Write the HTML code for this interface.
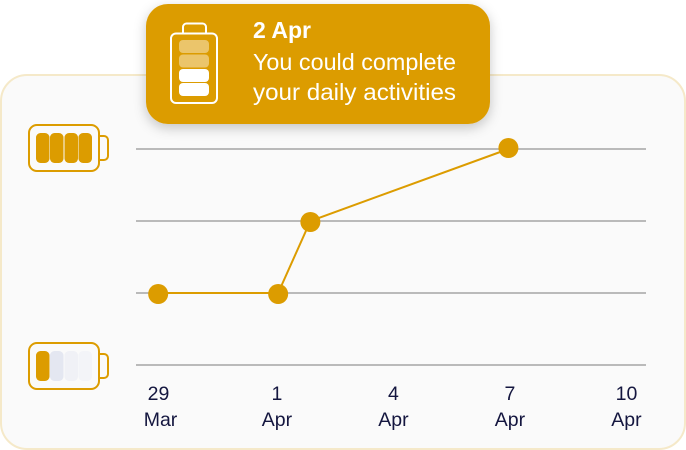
<!DOCTYPE html>
<html>
<head>
<meta charset="utf-8">
<style>
html,body{margin:0;padding:0;background:#fff;width:686px;height:450px;overflow:hidden}
svg{display:block;font-family:"Liberation Sans",sans-serif}
</style>
</head>
<body>
<svg id="chart" width="686" height="450" viewBox="0 0 686 450" xmlns="http://www.w3.org/2000/svg">
  <defs>
    <filter id="tip-shadow" x="-10%" y="-20%" width="120%" height="150%">
      <feDropShadow dx="0" dy="4" stdDeviation="6" flood-color="#000" flood-opacity="0.22"/>
    </filter>
  </defs>
  <rect x="1" y="75" width="684" height="374" rx="26" fill="#fafafa" stroke="#f5e9c9" stroke-width="2"/>
  <g id="grid"></g>
  <g id="series"></g>
  <g id="xaxis"></g>

  <g>
    <rect x="29" y="125" width="70" height="46" rx="8" fill="none" stroke="#dc9c00" stroke-width="2"/>
    <path d="M99 136h5a4 4 0 0 1 4 4v16a4 4 0 0 1-4 4h-5" fill="none" stroke="#dc9c00" stroke-width="2"/>
    <rect x="36" y="133" width="13.5" height="30" rx="4.500" fill="#dc9c00"/>
    <rect x="50" y="133" width="13.5" height="30" rx="4.500" fill="#dc9c00"/>
    <rect x="64.5" y="133" width="13.5" height="30" rx="4.500" fill="#dc9c00"/>
    <rect x="78.5" y="133" width="13.5" height="30" rx="4.500" fill="#dc9c00"/>
  </g>
  <g>
    <rect x="29" y="343" width="70" height="46" rx="8" fill="none" stroke="#dc9c00" stroke-width="2"/>
    <path d="M99 354h5a4 4 0 0 1 4 4v16a4 4 0 0 1-4 4h-5" fill="none" stroke="#dc9c00" stroke-width="2"/>
    <rect x="36" y="351" width="13.5" height="30" rx="4.500" fill="#dc9c00"/>
    <rect x="50" y="351" width="13.5" height="30" rx="4.500" fill="#e4e7f1"/>
    <rect x="64.5" y="351" width="13.5" height="30" rx="4.500" fill="#f0f1f6"/>
    <rect x="78.5" y="351" width="13.5" height="30" rx="4.500" fill="#f3f4f8"/>
  </g>

  <g>
    <rect x="146" y="4" width="344" height="120" rx="22" fill="#dc9c00" filter="url(#tip-shadow)"/>
    <g>
      <rect x="171" y="33.5" width="46" height="69.5" rx="5" fill="none" stroke="#fff" stroke-width="2"/>
      <path d="M183 33v-6a3.500 3.500 0 0 1 3.500-3.500h16a3.500 3.500 0 0 1 3.500 3.500v6" fill="none" stroke="#fff" stroke-width="2"/>
      <rect x="179" y="40" width="30" height="13" rx="4" fill="#fff" fill-opacity="0.42"/>
      <rect x="179" y="54.500" width="30" height="13" rx="4" fill="#fff" fill-opacity="0.42"/>
      <rect x="179" y="69" width="30" height="13" rx="4" fill="#fff"/>
      <rect x="179" y="83" width="30" height="13" rx="4" fill="#fff"/>
    </g>
    <text x="253" y="38" font-size="23" font-weight="700" fill="#fff" textLength="58" lengthAdjust="spacingAndGlyphs">2 Apr</text>
    <text x="253" y="70" font-size="23" fill="#fff" textLength="203" lengthAdjust="spacingAndGlyphs">You could complete</text>
    <text x="253" y="100" font-size="23" fill="#fff" textLength="203" lengthAdjust="spacingAndGlyphs">your daily activities</text>
  </g>
</svg>
<script>
var tickDays = [0, 3, 6, 9, 12];
var tickDayLabels = ["29", "1", "4", "7", "10"];
var tickMonthLabels = ["Mar", "Apr", "Apr", "Apr", "Apr"];
var gridLevels = [1, 2, 3, 4];
var pointDays = [-0.06, 3.03, 3.86, 8.96];
var pointLevels = [2, 2, 3, 4];

var NS = 'http://www.w3.org/2000/svg';
function xScale(d) { return 160.5 + d * 38.83; }
function yScale(l) { return 365 - (l - 1) * 72; }
function make(tag, parent, attrs) {
  var el = document.createElementNS(NS, tag);
  for (var k in attrs) el.setAttribute(k, attrs[k]);
  parent.appendChild(el);
  return el;
}

var gridGroup = document.getElementById('grid');
gridLevels.forEach(function (l) {
  var line = make('line', gridGroup, { x1: 136, x2: 646, y1: yScale(l), y2: yScale(l), stroke: '#bababa', 'stroke-width': 2 });
  
  
});

var seriesGroup = document.getElementById('series');
var linePoints = pointDays.map(function (d, i) {
  return xScale(d) + ',' + yScale(pointLevels[i]);
}).join(' ');
var seriesLine = make('polyline', seriesGroup, { points: linePoints, fill: 'none', stroke: '#dc9c00', 'stroke-width': 2 });


pointDays.forEach(function (d, i) {
  var lvl = pointLevels[i];
  var dot = make('circle', seriesGroup, { cx: xScale(d), cy: yScale(lvl) + (lvl < 4 ? 1 : -1), r: 10, fill: '#dc9c00' });
  
  
});

var axisGroup = document.getElementById('xaxis');
tickDays.forEach(function (d, i) {
  var x = xScale(d);
  var dayText = make('text', axisGroup, { x: x - (i === 0 ? 2 : 0), y: 400, 'text-anchor': 'middle', 'font-size': 19.5, fill: '#14163f' });
  dayText.textContent = tickDayLabels[i];
  
  
  var monthText = make('text', axisGroup, { x: x, y: 426, 'text-anchor': 'middle', 'font-size': 19.5, fill: '#14163f' });
  monthText.textContent = tickMonthLabels[i];
  
  
});
</script>
</body>
</html>
